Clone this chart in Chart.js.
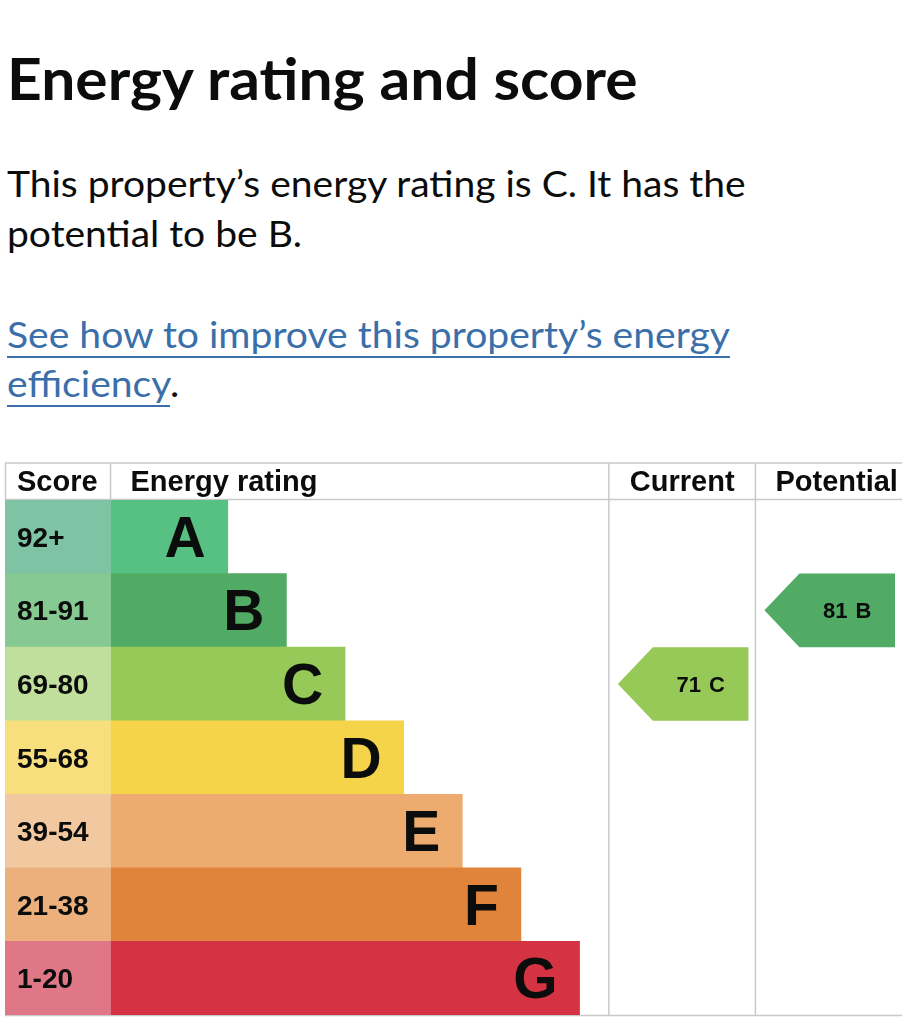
<!DOCTYPE html>
<html>
<head>
<meta charset="utf-8">
<script src="https://cdn.jsdelivr.net/npm/chart.js@4.4.1/dist/chart.umd.min.js"></script>
<style>
  html, body { margin: 0; padding: 0; background: #fff; width: 902px; height: 1024px; overflow: hidden; }
  .t { position: absolute; left: 7px; top: 0; white-space: nowrap; transform-origin: 0 0; color: #0b0c0c;
       font-family: Lato, "Noto Sans", sans-serif; line-height: 1; }
  .b { font-weight: 700; }
  .t a { color: #3b6faa; text-decoration: underline; text-decoration-thickness: 2px; text-underline-offset: 8px; }
  #wrap { position: absolute; left: 0; top: 455px; width: 902px; height: 569px; }
</style>
</head>
<body>
<div class="t b" data-base="100" data-cap="41" data-w="631" data-group="title">Energy rating and score</div>
<div class="t" data-base="197" data-cap="26" data-w="739" data-group="para">This property’s energy rating is C. It has the</div>
<div class="t" data-base="247" data-cap="26" data-group="para">potential to be B.</div>
<div class="t" data-base="348" data-cap="26" data-w="723" data-group="link"><a>See how to improve this property’s energy</a></div>
<div class="t" data-base="397" data-cap="26" data-group="link"><a>efficiency</a>.</div>

<div id="wrap"><canvas id="chart" width="902" height="569"></canvas></div>

<script>
// rating bands, top (best) to bottom
const bands = ['A', 'B', 'C', 'D', 'E', 'F', 'G'];
const scoreLabels = ['92+', '81-91', '69-80', '55-68', '39-54', '21-38', '1-20'];
const bandFloor = [92, 81, 69, 55, 39, 21, 1];
const barLength = [2, 3, 4, 5, 6, 7, 8];
const currentScore = 71;
const potentialScore = 81;

const barColors = ['#57c184', '#52ab64', '#96c957', '#f5d449', '#eeab6f', '#e0843b', '#d53343'];
const cellColors = ['#7ec4a4', '#87c992', '#c0df9c', '#f8df7e', '#f2c8a0', '#ebb07c', '#df7787'];

// layout of the table on the x scale (bar units)
const X_MIN = -1.8, X_MAX = 13.5;
const COL_CURRENT = [8.5, 11];
const COL_POTENTIAL = [11, 13.5];

const bandIndex = s => bandFloor.findIndex(f => s >= f);

// fit page text: cap height -> font size, then squeeze to the measured width
function fitText() {
  const scales = {};
  document.querySelectorAll('.t').forEach(el => {
    el.style.fontSize = (+el.dataset.cap / 0.7165) + 'px';
    if (el.dataset.w) scales[el.dataset.group] = +el.dataset.w / el.offsetWidth;
    el.style.transform = 'scaleX(' + (scales[el.dataset.group] || 1) + ')';
    const probe = document.createElement('span');
    probe.style.cssText = 'display:inline-block;width:0;height:0;vertical-align:baseline';
    el.appendChild(probe);
    el.style.top = (+el.dataset.base - probe.offsetTop) + 'px';
    probe.remove();
  });
}

const FONT = '"Liberation Sans", Arial, Helvetica, sans-serif';

const epcTable = {
  id: 'epcTable',
  beforeDatasetsDraw(chart) {
    const { ctx, chartArea: a, scales: { x } } = chart;
    const top = a.top - 37;
    const seg = (x1, y1, x2, y2) => { ctx.beginPath(); ctx.moveTo(x1, y1); ctx.lineTo(x2, y2); ctx.stroke(); };
    ctx.save();
    ctx.strokeStyle = '#c9c9c9';
    ctx.lineWidth = 1.5;
    seg(a.left, top, a.right, top);
    seg(a.left, a.top - 0.5, a.right, a.top - 0.5);
    seg(a.left, a.bottom + 0.5, a.right, a.bottom + 0.5);
    seg(a.left + 0.5, top, a.left + 0.5, a.top);
    const x0 = x.getPixelForValue(0);
    seg(x0, top, x0, a.top);
    for (const v of [COL_CURRENT[0], COL_POTENTIAL[0]]) {
      const px = x.getPixelForValue(v);
      seg(px, top, px, a.bottom + 0.5);
    }
    ctx.restore();
  },
  afterDatasetsDraw(chart) {
    const { ctx, chartArea: a, scales: { x } } = chart;
    ctx.save();
    ctx.fillStyle = '#0b0c0c';
    ctx.textBaseline = 'alphabetic';

    // header
    ctx.font = 'bold 29px ' + FONT;
    const hy = a.top - 9;
    ctx.fillText('Score', a.left + 12, hy);
    ctx.fillText('Energy rating', x.getPixelForValue(0) + 20, hy);
    ctx.fillText('Current', x.getPixelForValue(COL_CURRENT[0]) + 21, hy);
    ctx.fillText('Potential', x.getPixelForValue(COL_POTENTIAL[0]) + 20, hy);

    // score ranges and band letters
    const bars = chart.getDatasetMeta(1).data;
    bars.forEach((el, i) => {
      ctx.font = 'bold 28px ' + FONT;
      ctx.textAlign = 'left';
      ctx.fillText(scoreLabels[i], a.left + 12, el.y + 10);
      ctx.font = 'bold 57px ' + FONT;
      ctx.textAlign = 'right';
      ctx.fillText(bands[i], el.x - 22, el.y + 20);
    });

    // current / potential arrows
    [2, 3].forEach(di => {
      const ds = chart.data.datasets[di];
      chart.getDatasetMeta(di).data.forEach((el, i) => {
        if (ds.data[i] == null) return;
        const left = Math.min(el.base, el.x) + 9;
        const right = Math.max(el.base, el.x) - 7;
        const t = el.y - el.height / 2, b = el.y + el.height / 2;
        const body = left + 35;
        ctx.fillStyle = barColors[i];
        ctx.beginPath();
        ctx.moveTo(left, el.y);
        ctx.lineTo(body, t);
        ctx.lineTo(right, t);
        ctx.lineTo(right, b);
        ctx.lineTo(body, b);
        ctx.closePath();
        ctx.fill();
        ctx.fillStyle = '#0b0c0c';
        ctx.font = 'bold 22px ' + FONT;
        ctx.textAlign = 'left';
        const num = String(ds.score), gap = 8;
        const w = ctx.measureText(num).width + gap + ctx.measureText(bands[i]).width;
        const sx = (body + right) / 2 - w / 2;
        ctx.fillText(num, sx, el.y + 8);
        ctx.fillText(bands[i], sx + ctx.measureText(num).width + gap, el.y + 8);
      });
    });
    ctx.restore();
  }
};

function draw() {
  fitText();
  const cur = bandIndex(currentScore), pot = bandIndex(potentialScore);
  new Chart(document.getElementById('chart').getContext('2d'), {
    type: 'bar',
    data: {
      labels: bands,
      datasets: [
        { label: 'Score', data: bands.map(() => [X_MIN, 0]), backgroundColor: cellColors },
        { label: 'Energy rating', data: barLength, backgroundColor: barColors },
        { label: 'Current', score: currentScore, data: bands.map((b, i) => i === cur ? COL_CURRENT : null), backgroundColor: 'rgba(0,0,0,0)' },
        { label: 'Potential', score: potentialScore, data: bands.map((b, i) => i === pot ? COL_POTENTIAL : null), backgroundColor: 'rgba(0,0,0,0)' }
      ]
    },
    options: {
      indexAxis: 'y',
      responsive: false,
      animation: false,
      layout: { padding: { left: 5, top: 45, right: 0, bottom: 9 } },
      scales: {
        x: { type: 'linear', min: X_MIN, max: X_MAX, display: false },
        y: { display: false, offset: true }
      },
      datasets: { bar: { categoryPercentage: 1, barPercentage: 1, grouped: false, borderWidth: 0 } },
      plugins: { legend: { display: false }, tooltip: { enabled: false } }
    },
    plugins: [epcTable]
  });
}

(document.fonts ? document.fonts.ready : Promise.resolve()).then(draw);
</script>
</body>
</html>
